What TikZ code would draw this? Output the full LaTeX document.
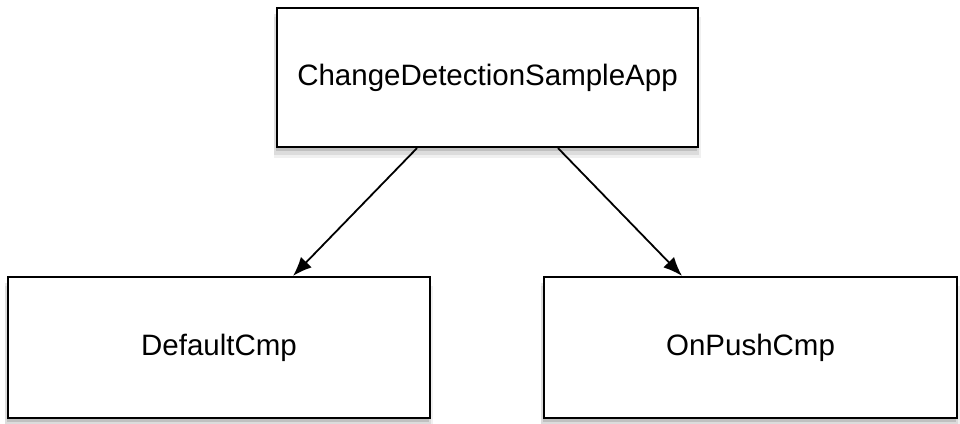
\documentclass[tikz,border=0pt]{standalone}
\usepackage{fontspec}
\setmainfont{Liberation Sans}
\usetikzlibrary{arrows.meta,shadows}

\begin{document}
\begin{tikzpicture}[x=1pt, y=-1pt, >={Latex[length=19pt, width=15pt]},
	every node/.style={font=\fontsize{29.5}{34}\selectfont},
	cmpbox/.style={draw, line width=2.2pt, fill=white, inner sep=0pt,
		drop shadow={shadow xshift=0pt, shadow yshift=-10pt, shadow scale=1.015, opacity=0.12},
		drop shadow={shadow xshift=-1pt, shadow yshift=-7pt, shadow scale=1.01, opacity=0.18},
		drop shadow={shadow xshift=-1pt, shadow yshift=-4pt, opacity=0.3}}]
	\useasboundingbox (0,0) rectangle (960,423);
	\node[cmpbox, minimum width=421pt, minimum height=139pt] (app) at (487.5,77.5) {ChangeDetectionSampleApp};
	\node[cmpbox, minimum width=422pt, minimum height=141pt] (def) at (219,347.5) {DefaultCmp};
	\node[cmpbox, minimum width=413pt, minimum height=141pt] (push) at (750.5,347.5) {OnPushCmp};
	\draw[->, line width=1.8pt] ([xshift=-70.5pt]app.south) -- ([xshift=74pt]def.north);
	\draw[->, line width=1.8pt] ([xshift=70.5pt]app.south) -- ([xshift=-68.5pt]push.north);
\end{tikzpicture}
\end{document}
